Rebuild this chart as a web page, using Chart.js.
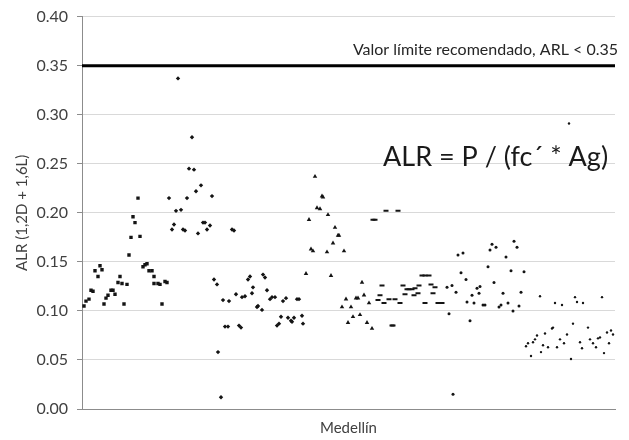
<!DOCTYPE html>
<html>
<head>
<meta charset="utf-8">
<script src="https://cdn.jsdelivr.net/npm/chart.js@4"></script>
<style>
  html, body { margin: 0; padding: 0; background: #fff; }
</style>
</head>
<body>
<canvas id="alrChart" width="629" height="440"></canvas>
<script>
// Column samples, position along the Medellín axis (sample order) and ALR value
const squaresX = [2, 4, 7, 9, 11, 13, 16, 18, 20, 22, 24, 26, 29, 31, 33, 36, 38, 40, 42, 45, 47, 49, 51, 53, 56, 58, 61, 63, 65, 67, 70, 72, 72, 76, 78, 80, 83, 85];
const squaresY = [.105, .110, .112, .121, .120, .141, .135, .146, .142, .107, .113, .116, .121, .121, .117, .129, .135, .128, .107, .127, .157, .175, .196, .190, .215, .176, .145, .147, .148, .141, .141, .135, .128, .128, .127, .107, .130, .129];

const diamondsX = [87, 90, 92, 94, 96, 99, 101, 103, 105, 107, 110, 112, 114, 116, 119, 121, 123, 125, 128, 130, 132, 135, 136, 139, 141, 143, 146, 147, 150, 152, 154, 157, 159, 160, 163, 166, 168, 170, 171, 175, 176, 180, 181, 183, 185, 188, 190, 193, 195, 197, 199, 201, 204, 206, 209, 210, 212, 215, 217, 220, 221];
const diamondsY = [.215, .183, .188, .202, .337, .203, .183, .182, .215, .245, .277, .244, .222, .179, .228, .190, .190, .183, .187, .217, .132, .127, .058, .012, .111, .084, .084, .110, .183, .182, .117, .085, .083, .114, .115, .132, .135, .118, .124, .104, .105, .101, .137, .134, .121, .112, .114, .114, .085, .087, .094, .110, .113, .093, .090, .089, .093, .112, .112, .095, .087];

const trianglesX = [224, 227, 229, 231, 233, 235, 238, 240, 241, 245, 246, 249, 251, 253, 256, 257, 260, 262, 264, 266, 269, 271, 274, 276, 278, 280, 282, 285, 287, 290];
const trianglesY = [.138, .193, .163, .161, .237, .205, .204, .217, .216, .160, .198, .136, .169, .185, .177, .177, .104, .161, .112, .088, .104, .094, .113, .113, .096, .129, .116, .088, .108, .082];

const dashesX = [291, 293, 296, 298, 300, 302, 304, 307, 310, 311, 313, 316, 318, 321, 323, 325, 327, 330, 332, 333, 336, 337, 340, 343, 343, 347, 349, 351, 353, 356, 360];
const dashesY = [.193, .193, .111, .116, .126, .108, .202, .112, .085, .085, .112, .202, .108, .126, .117, .122, .122, .122, .116, .123, .118, .126, .136, .136, .108, .136, .127, .118, .124, .108, .108];

const dotsX = [365, 367, 370, 371, 374, 376, 379, 381, 384, 385, 388, 390, 392, 395, 397, 398, 401, 403, 406, 408, 410, 412, 414, 417, 419, 421, 424, 426, 429, 431, 432, 435, 437, 439, 442];
const dotsY = [.124, .097, .126, .015, .119, .157, .139, .159, .132, .109, .090, .116, .108, .123, .118, .125, .106, .106, .145, .162, .168, .129, .165, .104, .106, .118, .155, .108, .141, .100, .171, .165, .105, .119, .140];

const smallX = [444, 446, 449, 451, 453, 455, 458, 459, 461, 463, 466, 470, 471, 473, 475, 478, 480, 482, 485, 487, 489, 491, 493, 495, 498, 500, 501, 506, 508, 511, 514, 516, 518, 520, 522, 525, 527, 529, 531];
const smallY = [.064, .067, .054, .068, .071, .075, .115, .058, .065, .077, .063, .082, .083, .108, .063, .071, .106, .067, .076, .291, .051, .087, .114, .109, .068, .062, .108, .083, .071, .067, .063, .072, .073, .114, .057, .078, .067, .080, .076];

const xMax = 533;
const yTicks = [0, 0.05, 0.10, 0.15, 0.20, 0.25, 0.30, 0.35, 0.40];
const limitValue = 0.35;
const limitLabel = 'Valor límite recomendado, ARL < 0.35';
const formulaLabel = 'ALR = P / (fc´ * Ag)';

const pts = (xs, ys) => xs.map((x, i) => ({ x: x, y: ys[i] }));

const ink = '#141414';
const font = 'Lato, "Open Sans", sans-serif';

function markers(xs, ys, style, radius, extra) {
    return Object.assign({
        type: 'scatter',
        data: pts(xs, ys),
        pointStyle: style,
        pointRadius: radius,
        pointBackgroundColor: ink,
        pointBorderColor: ink,
        pointBorderWidth: 0
    }, extra || {});
}

// texts on the plot
const notes = {
    id: 'notes',
    afterDraw(chart) {
        const { ctx, scales: { x, y } } = chart;
        ctx.save();
        ctx.fillStyle = '#262626';
        ctx.font = '16px ' + font;
        ctx.textAlign = 'right';
        ctx.textBaseline = 'alphabetic';
        ctx.fillText(limitLabel, x.right + 3, y.getPixelForValue(limitValue) - 11);
        ctx.fillStyle = '#1a1a1a';
        ctx.font = '27px ' + font;
        ctx.textAlign = 'left';
        ctx.textBaseline = 'middle';
        ctx.fillText(formulaLabel, x.getPixelForValue(301), y.getPixelForValue(0.257));
        ctx.restore();
    }
};

const ctx = document.getElementById('alrChart').getContext('2d');
const alrChart = new Chart(ctx, {
    data: {
        datasets: [
            {
                type: 'line',
                data: [{ x: 0, y: limitValue }, { x: xMax, y: limitValue }],
                borderColor: '#000',
                borderWidth: 3,
                pointRadius: 0
            },
            markers(squaresX, squaresY, 'rect', 2.4),
            markers(diamondsX, diamondsY, 'rectRot', 2.2),
            markers(trianglesX, trianglesY, 'triangle', 2.6),
            markers(dashesX, dashesY, 'line', 2.5, { pointBorderWidth: 2 }),
            markers(dotsX, dotsY, 'circle', 1.5),
            markers(smallX, smallY, 'circle', 1.2)
        ]
    },
    options: {
        responsive: false,
        animation: false,
        events: [],
        layout: { padding: { top: 4, right: 14, left: 0, bottom: 0 } },
        plugins: {
            legend: { display: false },
            tooltip: { enabled: false }
        },
        scales: {
            x: {
                type: 'linear',
                min: 0,
                max: xMax,
                grid: { display: false },
                border: { display: true, color: '#8c8c8c', width: 1 },
                ticks: { display: false },
                title: {
                    display: true,
                    text: 'Medellín',
                    color: '#404040',
                    font: { family: font, size: 15 },
                    padding: { top: 4, bottom: 3 }
                },
                afterFit: (s) => { s.height = 31; }
            },
            y: {
                type: 'linear',
                min: 0,
                max: 0.4,
                afterBuildTicks: (s) => { s.ticks = yTicks.map(v => ({ value: v })); },
                grid: { color: '#d9d9d9', tickColor: '#8c8c8c', tickLength: 5 },
                border: { display: true, color: '#8c8c8c', width: 1 },
                ticks: {
                    color: '#404040',
                    padding: 9,
                    font: { family: font, size: 16, lineHeight: 0.95 },
                    callback: (v) => Number(v).toFixed(2)
                },
                title: {
                    display: true,
                    text: 'ALR (1,2D + 1,6L)',
                    color: '#404040',
                    font: { family: font, size: 15 },
                    padding: { top: 13, bottom: 0 }
                },
                afterFit: (s) => { s.width = 82; }
            }
        }
    },
    plugins: [notes]
});
</script>
</body>
</html>
